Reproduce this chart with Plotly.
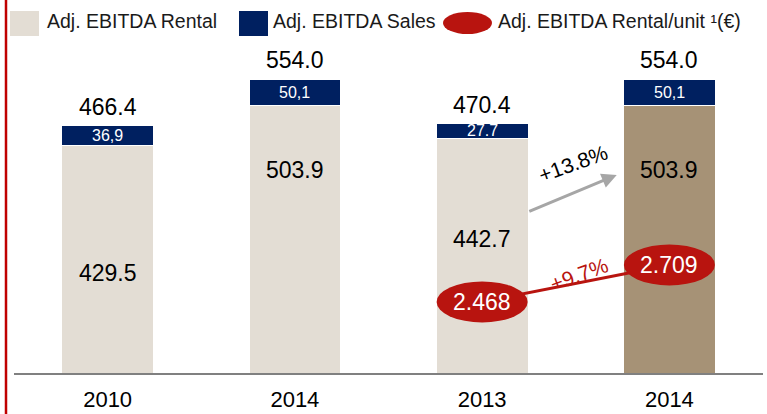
import plotly.graph_objects as go

# ---------------- data ----------------
categories = ["2010", "2014", "2013", "2014"]
rental = [429.5, 503.9, 442.7, 503.9]
sales = [36.9, 50.1, 27.7, 50.1]
totals = [466.4, 554.0, 470.4, 554.0]
sales_labels = ["36,9", "50,1", "27.7", "50,1"]
unit_x = [2, 3]
unit_values = [2.468, 2.709]
unit_labels = ["2.468", "2.709"]
growth_rental = "+13.8%"
growth_unit = "+9.7%"

# ---------------- styling ----------------
W, H = 767, 414
ML, MR, MT, MB = 14, 4, 40, 41
PW, PH = W - ML - MR, H - MT - MB
FONT = "Liberation Sans, Arial, sans-serif"
LIGHT = "#E3DDD4"
TAN = "#A69276"
NAVY = "#002060"
RED = "#B8140F"
GRAY = "#A6A6A6"

Y_MAX = 628.0
Y2_RANGE = [2.005, 4.174]
xs = list(range(len(categories)))
rental_colors = [LIGHT, LIGHT, LIGHT, TAN]
label_frac = [0.44, 0.76, 0.57, 0.76]


def px_x(p):
    return (p - ML) / PW


def px_y(p):
    return (H - MB - p) / PH


fig = go.Figure()
fig.add_trace(go.Bar(x=xs, y=rental, marker=dict(color=rental_colors, line=dict(color="white", width=1)),
                     width=0.49, hoverinfo="skip", showlegend=False))
fig.add_trace(go.Bar(x=xs, y=sales, marker=dict(color=NAVY, line=dict(color="white", width=1)),
                     width=0.49, hoverinfo="skip", showlegend=False))
fig.add_trace(go.Scatter(x=unit_x, y=unit_values, yaxis="y2", mode="lines",
                         line=dict(color=RED, width=3), hoverinfo="skip", showlegend=False))

annotations = []
shapes = []
for i, x in enumerate(xs):
    annotations.append(dict(x=x, y=totals[i], text=f"{totals[i]:.1f}", showarrow=False,
                            yanchor="bottom", yshift=4, font=dict(size=23, color="black", family=FONT)))
    annotations.append(dict(x=x, y=rental[i] + sales[i] / 2, text=sales_labels[i], showarrow=False,
                            font=dict(size=16, color="white", family=FONT)))
    annotations.append(dict(x=x, y=rental[i] * label_frac[i], text=f"{rental[i]:.1f}", showarrow=False,
                            font=dict(size=23, color="black", family=FONT)))

# per-unit ellipses
hw, hh = 0.243, 0.1336
for x, v, t in zip(unit_x, unit_values, unit_labels):
    shapes.append(dict(type="circle", xref="x", yref="y2", x0=x - hw, x1=x + hw, y0=v - hh, y1=v + hh,
                       fillcolor=RED, line=dict(width=0), layer="above"))
    annotations.append(dict(x=x, y=v, yref="y2", text=t, showarrow=False,
                            font=dict(size=23, color="white", family=FONT)))

annotations.append(dict(x=(unit_x[0] + unit_x[1]) / 2, y=sum(unit_values) / 2, yref="y2", text=growth_unit,
                        showarrow=False, textangle=-20, xshift=3, yshift=9,
                        font=dict(size=21, color=RED, family=FONT)))

# rental growth arrow
annotations.append(dict(x=2.719, y=373.6, ax=2.244, ay=303.8, axref="x", ayref="y", text="",
                        showarrow=True, arrowhead=2, arrowsize=1, arrowwidth=3, arrowcolor=GRAY))
annotations.append(dict(x=2.485, y=396, text=growth_rental, showarrow=False, textangle=-20,
                        font=dict(size=21, color="black", family=FONT)))

# manual legend
leg_items = [
    ("rect", LIGHT, 10, 39, 11, 36, 45, "Adj. EBITDA Rental"),
    ("rect", NAVY, 239, 268, 11, 36, 271, "Adj. EBITDA Sales"),
    ("circle", RED, 443, 492, 12, 34, 496, "Adj. EBITDA Rental/unit ¹(€)"),
]
for kind, col, x0, x1, y0, y1, tx, txt in leg_items:
    shapes.append(dict(type=kind, xref="paper", yref="paper", x0=px_x(x0), x1=px_x(x1),
                       y0=px_y(y1), y1=px_y(y0), fillcolor=col, line=dict(width=0)))
    annotations.append(dict(xref="paper", yref="paper", x=px_x(tx), y=px_y(21), xanchor="left",
                            yanchor="middle", text=txt, showarrow=False,
                            font=dict(size=19.5, color="#1a1a1a", family=FONT)))

# red vertical rule on the left
shapes.append(dict(type="line", xref="paper", yref="paper", x0=px_x(6), x1=px_x(6), y0=px_y(H), y1=px_y(0),
                   line=dict(color="#C00000", width=2.5)))

fig.update_layout(
    width=W, height=H, barmode="stack", bargap=0.5,
    margin=dict(l=ML, r=MR, t=MT, b=MB, autoexpand=False),
    paper_bgcolor="white", plot_bgcolor="white",
    xaxis=dict(range=[-0.5, 3.5], tickmode="array", tickvals=xs, ticktext=categories,
               showgrid=False, zeroline=False, showline=True, linecolor="#808080", linewidth=2,
               ticks="outside", ticklen=6, tickcolor="rgba(0,0,0,0)",
               tickfont=dict(size=22, color="black", family=FONT)),
    yaxis=dict(range=[0, Y_MAX], visible=False, showgrid=False),
    yaxis2=dict(range=Y2_RANGE, overlaying="y", visible=False, showgrid=False),
    shapes=shapes, annotations=annotations, showlegend=False,
)

fig.write_html("out.html", config={"displayModeBar": False},
               post_script="document.body.style.margin='0';document.body.style.overflow='hidden';")
